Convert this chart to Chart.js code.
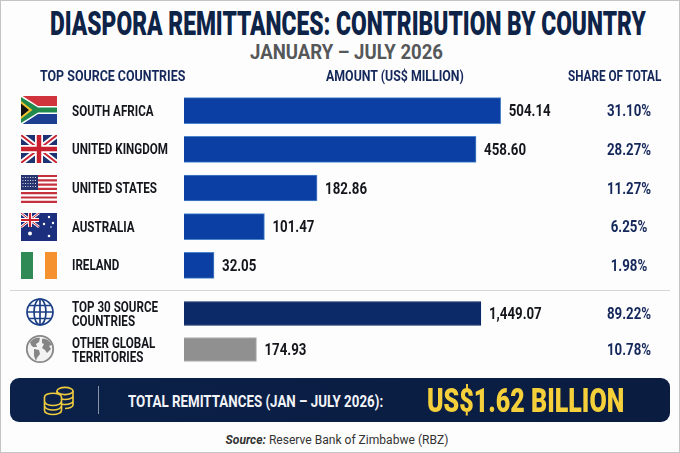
<!DOCTYPE html>
<html>
<head>
<meta charset="utf-8">
<title>Diaspora remittances</title>
<script src="https://cdn.jsdelivr.net/npm/chart.js@4/dist/chart.umd.js"></script>
<style>
html,body{margin:0;padding:0;background:#fdfdfd;}
#page{position:relative;width:680px;height:453px;overflow:hidden;box-sizing:border-box;border:1px solid #c4c4c4;font-family:Roboto,sans-serif;}
#page .abs,#page canvas,#page svg{position:absolute;}
.t{white-space:nowrap;font-weight:bold;transform-origin:0 50%;line-height:1;}
#banner{left:9px;top:377px;width:660px;height:44px;border-radius:9px;background:linear-gradient(90deg,#0b2149,#0a1c40);}
#rule{left:9px;top:289px;width:660px;height:1px;background:#d6d6d6;}
#bandline{left:97px;top:385px;width:1px;height:28px;background:#8a94a8;}
#source{left:0;width:672px;top:431px;text-align:center;font:12.500px Roboto,sans-serif;color:#333;transform:scaleX(.965);}
#source b{font-style:italic;}
</style>
</head>
<body>
<div id="page">
  <div class="abs" id="rule"></div>
  <div class="abs" id="banner"></div>
  <div class="abs" id="bandline"></div>
  <div class="abs" id="source"><b>Source:</b> Reserve Bank of Zimbabwe (RBZ)</div>

  <!-- South Africa -->
  <svg style="left:20px;top:95px" width="36" height="28" viewBox="0 0 36 28">
    <rect width="36" height="14" fill="#d0333c"/><rect y="14" width="36" height="14" fill="#1d3f92"/>
    <path d="M0 0L18 14L0 28Z" fill="#111"/>
    <path d="M0 -1L17 10H36V18H17L0 29V24L13 14L0 4Z" fill="#fff"/>
    <path d="M0 1L17 11.500H36V16.500H17L0 27V22.500L11 14L0 5.500Z" fill="#1f8a4c"/>
    <path d="M0 5L11.500 14L0 23V20.500L8 14L0 7.500Z" fill="#f0c32e"/>
  </svg>
  <!-- United Kingdom -->
  <svg style="left:20px;top:134px" width="36" height="28" viewBox="0 0 36 28">
    <rect width="36" height="28" fill="#1c3272"/>
    <path d="M0 0L36 28M36 0L0 28" stroke="#fff" stroke-width="5.500"/>
    <path d="M0 0L36 28M36 0L0 28" stroke="#c8202f" stroke-width="1.800"/>
    <path d="M18 0V28M0 14H36" stroke="#fff" stroke-width="8"/>
    <path d="M18 0V28M0 14H36" stroke="#c8202f" stroke-width="4.500"/>
  </svg>
  <!-- United States -->
  <svg style="left:20px;top:174px" width="36" height="28" viewBox="0 0 36 28">
    <rect width="36" height="28" fill="#fff"/>
    <path d="M0 1H36M0 5.300H36M0 9.600H36M0 13.900H36M0 18.200H36M0 22.500H36M0 26.800H36" stroke="#c4303c" stroke-width="2.200"/>
    <rect width="17" height="15" fill="#27336f"/>
    <path d="M1.500 2.500H16M1.500 5.500H16M1.500 8.500H16M1.500 11.500H16" stroke="#d8dcec" stroke-width="1" stroke-dasharray="1 1.500"/>
  </svg>
  <!-- Australia -->
  <svg style="left:20px;top:212px" width="36" height="28" viewBox="0 0 36 28">
    <rect width="36" height="28" fill="#1b2f7e"/>
    <path d="M0 0L18 14M18 0L0 14" stroke="#fff" stroke-width="2.600"/>
    <path d="M0 0L18 14M18 0L0 14" stroke="#c8202f" stroke-width="1"/>
    <path d="M9 0V14M0 7H18" stroke="#fff" stroke-width="4"/>
    <path d="M9 0V14M0 7H18" stroke="#c8202f" stroke-width="2.200"/>
    <g fill="#fff"><circle cx="9" cy="20.500" r="2"/><circle cx="28" cy="4" r="1.200"/><circle cx="23" cy="11" r="1.200"/><circle cx="32" cy="10" r="1.200"/><circle cx="28" cy="23" r="1.300"/><circle cx="30" cy="14" r=".8"/></g>
  </svg>
  <!-- Ireland -->
  <svg style="left:20px;top:251px" width="36" height="27" viewBox="0 0 36 27">
    <rect width="12" height="27" fill="#2f8a55"/><rect x="12" width="12" height="27" fill="#fdfdfd"/><rect x="24" width="12" height="27" fill="#f5922f"/>
  </svg>
  <!-- globe, blue -->
  <svg style="left:24px;top:296px" width="30" height="30" viewBox="0 0 30 30" fill="none" stroke="#1d3f86" stroke-width="1.700">
    <circle cx="15" cy="15" r="13"/><ellipse cx="15" cy="15" rx="6" ry="13"/><path d="M15 2V28M2 15H28M4 8.500H26M4 21.500H26"/>
  </svg>
  <!-- globe, grey -->
  <svg style="left:24px;top:333px" width="30" height="30" viewBox="0 0 30 30">
    <circle cx="15" cy="15" r="13.200" fill="#f2f2f2" stroke="#888" stroke-width="1.800"/>
    <path d="M5 8C8 4 13 3 15 4L14 8L11 10L12 13L8 13L6 11ZM9 15L14 16L15 20L12 24L11 27L9 22ZM17 5C21 4 25 7 27 11L24 12L26 15L22 19L20 16L17 14L19 10L17 9Z" fill="#858585"/>
  </svg>
  <!-- coins -->
  <svg style="left:42px;top:384px" width="32" height="31" viewBox="0 0 32 31" fill="none" stroke="#f0cc3e" stroke-width="1.600">
    <g><ellipse cx="22" cy="6" rx="8" ry="3.600"/><path d="M14 6V20M30 6V20C30 22 26 23.500 22 23.500M14 11C14 13 18 14.500 22 14.500S30 13 30 11M14 16C14 18 18 19.500 22 19.500S30 18 30 16"/></g>
    <g fill="#0b2149"><ellipse cx="10" cy="12" rx="8.500" ry="3.800"/><path d="M1.500 12V25.500C1.500 27.800 5.500 29.500 10 29.500S18.500 27.800 18.500 25.500V12"/></g>
    <path d="M1.500 16.500C1.500 18.800 5.500 20.500 10 20.500S18.500 18.800 18.500 16.500M1.500 21C1.500 23.300 5.500 25 10 25S18.500 23.300 18.500 21"/>
  </svg>

  <canvas id="topChart" width="678" height="208" style="left:0;top:83px"></canvas>
  <canvas id="groupChart" width="678" height="101" style="left:0;top:280px"></canvas>
</div>

<script>
const titleText = 'DIASPORA REMITTANCES: CONTRIBUTION BY COUNTRY';
const subtitleText = 'JANUARY – JULY 2026';
const columnHeads = ['TOP SOURCE COUNTRIES', 'AMOUNT (US$ MILLION)', 'SHARE OF TOTAL'];
const totalLabel = 'TOTAL REMITTANCES (JAN – JULY 2026):';
const totalValue = 'US$1.62 BILLION';

const countries = ['SOUTH AFRICA', 'UNITED KINGDOM', 'UNITED STATES', 'AUSTRALIA', 'IRELAND'];
const countryAmounts = [504.14, 458.60, 182.86, 101.47, 32.05];
const countryShares = ['31.10%', '28.27%', '11.27%', '6.25%', '1.98%'];

const groups = [['TOP 30 SOURCE', 'COUNTRIES'], ['OTHER GLOBAL', 'TERRITORIES']];
const groupAmounts = [1449.07, 174.93];
const groupShares = ['89.22%', '10.78%'];

// the bars in the picture are not proportional to their printed values,
// so each block gets a power axis fitted to its bar lengths
class PowerScale extends Chart.LinearScale {
  getPixelForValue(value) {
    return this.getPixelForDecimal(Math.pow(Math.max(value, 0) / this.max, this.options.exponent));
  }
}
PowerScale.id = 'power';
PowerScale.defaults = Chart.LinearScale.defaults;
Chart.register(PowerScale);

// no condensed font is installed, so the canvas text is squeezed sideways
const SQUEEZE = 0.83;
function squeezed(c, x, draw) {
  c.save();
  c.translate(x, 0);
  c.scale(SQUEEZE, 1);
  c.translate(-x, 0);
  draw();
  c.restore();
}

function rowText(shares, nudge) {
  return {
    id: 'rowText',
    beforeDraw(chart) {
      const y = chart.scales.y;
      if (y.plainLabels) return;
      y.plainLabels = y.drawLabels;
      // the clip box would be squeezed too and cut the long names
      y._computeLabelArea = () => null;
      y.drawLabels = function(area) {
        chart.ctx.save();
        chart.ctx.translate(0, nudge);
        squeezed(chart.ctx, y.left, () => y.plainLabels(area));
        chart.ctx.restore();
      };
    },
    // value next to the bar, share in the right hand column
    afterDatasetsDraw(chart) {
      const c = chart.ctx;
      c.save();
      c.textBaseline = 'middle';
      c.font = 'bold 16px Roboto, sans-serif';
      chart.getDatasetMeta(0).data.forEach((bar, i) => {
        const v = chart.data.datasets[0].data[i];
        const amount = v.toLocaleString('en-US', {minimumFractionDigits: 2});
        c.textAlign = 'left';
        c.fillStyle = '#14161c';
        squeezed(c, bar.x + 8, () => c.fillText(amount, bar.x + 8, bar.y + 1.500));
        c.textAlign = 'center';
        c.fillStyle = '#14275a';
        squeezed(c, 628, () => c.fillText(shares[i], 628, bar.y + 1.500));
      });
      c.restore();
    }
  };
}

function barChart(id, labels, values, shares, fill, edge, thick, axisMax, exponent, nudge) {
  return new Chart(document.getElementById(id), {
    type: 'bar',
    data: {
      labels: labels,
      datasets: [{data: values, backgroundColor: fill, borderColor: edge, borderWidth: 1, barThickness: thick}]
    },
    options: {
      indexAxis: 'y',
      responsive: false,
      animation: false,
      layout: {padding: {left: 71, right: 18}},
      plugins: {legend: {display: false}, tooltip: {enabled: false}},
      scales: {
        x: {type: 'power', exponent: exponent, min: 0, max: axisMax, display: false},
        y: {
          grid: {display: false},
          border: {display: false},
          afterFit(scale) { scale.width = 112; },
          ticks: {crossAlign: 'far', color: '#14161c', padding: 0, autoSkip: false,
                  font: {family: 'Roboto, sans-serif', size: 14, weight: 'bold', lineHeight: 1.040}}
        }
      }
    },
    plugins: [rowText(shares, nudge)]
  });
}

barChart('topChart', countries, countryAmounts, countryShares, '#0b3fa3', '#4d85c8', 26, 814, 0.855, 1.500);
barChart('groupChart', groups, groupAmounts, groupShares,
  ['#0c2a68', '#909090'], ['#0c2a68', '#b0b0b0'], 24, 2950, 0.667, 2);

// header text squeezed to the width it has in the picture
function put(text, left, mid, width, size, color, weight) {
  const el = document.createElement('div');
  el.className = 'abs t';
  el.textContent = text;
  el.style.left = left + 'px';
  el.style.fontSize = size + 'px';
  el.style.color = color;
  if (weight) el.style.fontWeight = weight;
  document.getElementById('page').appendChild(el);
  el.style.top = (mid - el.offsetHeight / 2) + 'px';
  el.style.transform = 'scaleX(' + (width / el.offsetWidth) + ')';
}
put(titleText, 49, 22, 596, 33, '#0d2348', 900);
put(subtitleText, 249, 51, 193, 20, '#555759');
put(columnHeads[0], 39, 76, 145, 14.500, '#14275a');
put(columnHeads[1], 325, 76, 138, 14.500, '#14275a');
put(columnHeads[2], 567, 76, 93, 14.500, '#14275a');
put(totalLabel, 127, 400, 255, 17, '#f2f4f8');
put(totalValue, 426, 399, 197, 33, '#f5d03a', 900);
</script>
</body>
</html>
